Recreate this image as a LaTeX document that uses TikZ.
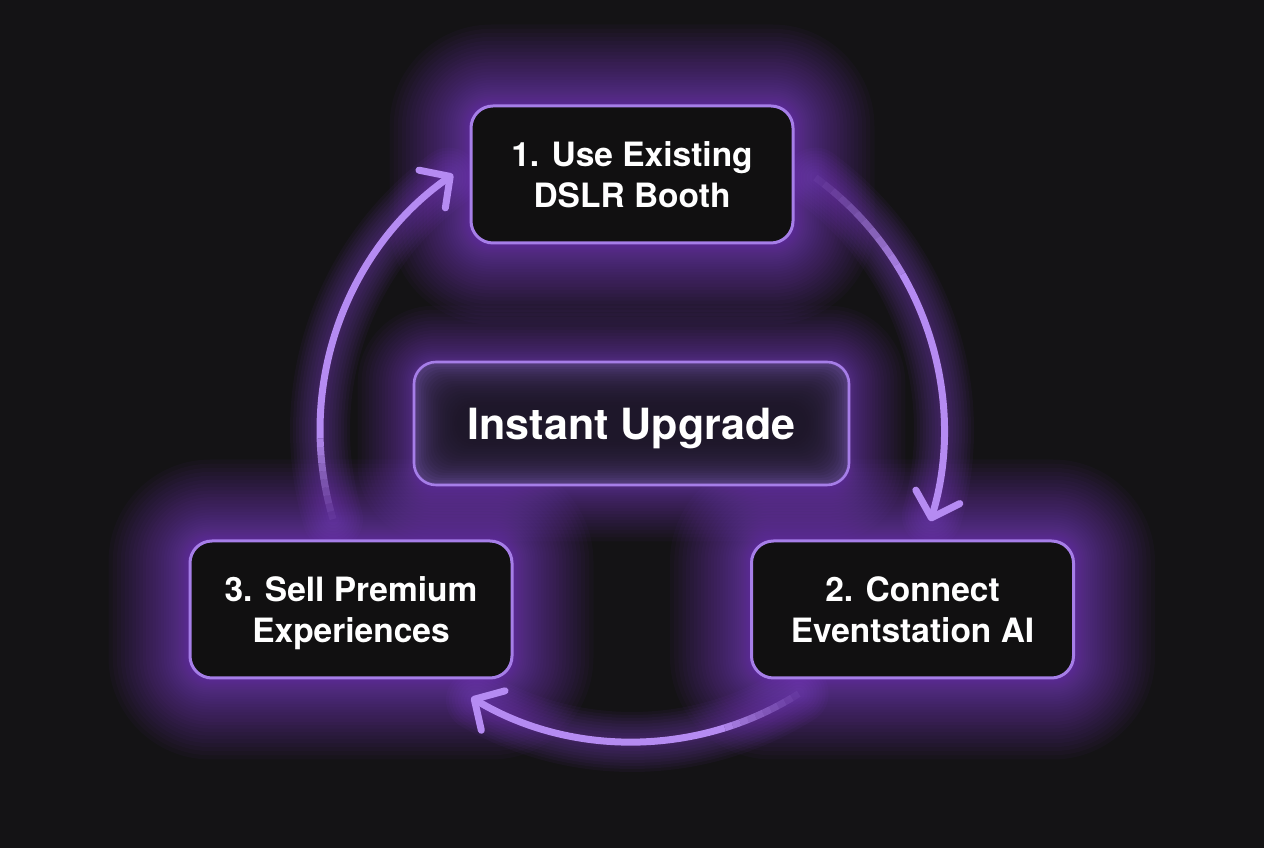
\documentclass[tikz,border=0pt]{standalone}
\usepackage{fontspec}
\setmainfont{TeX Gyre Heros}
\usetikzlibrary{arrows.meta}
\definecolor{bg}{HTML}{141315}
\definecolor{boxfill}{HTML}{111011}
\definecolor{edge}{HTML}{A67EE8}
\definecolor{glowc}{HTML}{8A45DD}
\definecolor{arrowc}{HTML}{B58BF2}
\definecolor{cfill}{HTML}{563E80}
\definecolor{cdark}{HTML}{1C1724}
\pgfdeclarelayer{bottom}
\pgfdeclarelayer{glow}
\pgfsetlayers{bottom,glow,main}
\newcommand\myglow[3]{% node name, steps, reach
  \foreach \i in {1,...,#2}{%
    \pgfmathsetmacro\dd{#3*(\i/#2)^1.7}%
    \pgfmathsetmacro\rr{22+\dd}%
    \fill[glowc, opacity=0.036, rounded corners=\rr pt]
      ([shift={(-\dd pt,-\dd pt)}]#1.south west) rectangle ([shift={(\dd pt,\dd pt)}]#1.north east);
  }}
% fading start of an arc: centre, radius, start angle, step (signed), count
\newcommand\fadearc[5]{%
  \foreach \j in {1,...,#5}{%
    \pgfmathsetmacro\aa{#3+(\j-1)*#4}%
    \pgfmathsetmacro\ab{#3+\j*#4}%
    \pgfmathsetmacro\op{\j/(#5+1)}%
    \draw[flow, opacity=\op] (#1) ++(\aa:#2) arc[start angle=\aa, end angle=\ab, radius=#2];
  }}
\begin{document}
\begin{tikzpicture}[x=1pt,y=1pt,
  stepbox/.style={draw=edge, line width=3pt, fill=boxfill, rounded corners=22pt,
    minimum width=322pt, minimum height=137pt, text=white, text depth=0pt,
    font=\fontsize{33.5}{41}\selectfont\bfseries, align=center, inner sep=0pt},
  hubbox/.style={draw=edge, line width=2.6pt, fill=cfill, rounded corners=22pt,
    minimum width=435pt, minimum height=123pt, text=white, text depth=0pt,
    font=\fontsize{43}{50}\selectfont\bfseries, inner sep=0pt,
    path picture={\foreach \k in {1,...,18}{%
      \pgfmathsetmacro\ee{\k*2.4}%
      \fill[cdark, opacity=0.12, rounded corners=20pt]
        ([shift={(\ee pt,\ee pt)}]path picture bounding box.south west) rectangle
        ([shift={(-\ee pt,-\ee pt)}]path picture bounding box.north east);}}},
  flow/.style={draw=arrowc, line width=7pt, line cap=butt},
  flowtip/.style={flow, -{Straight Barb[length=22pt, width=46pt, round]}},
  flowglow/.style={draw=glowc, line cap=round, opacity=0.05}
]
\useasboundingbox (0,0) rectangle (1264,848);
\begin{pgfonlayer}{bottom}
  \fill[bg] (0,0) rectangle (1264,848);
\end{pgfonlayer}

\coordinate (O) at (632,418);
\node[stepbox] (s1) at (632,673.5) {1. Use Existing\\DSLR Booth};
\node[stepbox] (s2) at (912.5,238.5) {2. Connect\\Eventstation AI};
\node[stepbox] (s3) at (351,238.5) {3. Sell Premium\\Experiences};
\node[hubbox] (hub) at (631.5,424.5) {Instant Upgrade};

\path (O) ++(196.6:312) coordinate (a3s);
\path (O) ++(54:312) coordinate (a1s);
\path (O) ++(-57.7:312) coordinate (a2s);

\begin{pgfonlayer}{glow}
  \myglow{s1}{32}{80}
  \myglow{s2}{32}{80}
  \myglow{s3}{32}{80}
  \myglow{hub}{24}{55}
  \foreach \w in {12,18,...,60}{%
    \draw[flowglow, line width=\w pt] (a3s) arc[start angle=196.6, end angle=126, radius=312];
    \draw[flowglow, line width=\w pt] (a1s) arc[start angle=54, end angle=-16, radius=312];
    \draw[flowglow, line width=\w pt] (a2s) arc[start angle=-57.7, end angle=-120, radius=312];
  }
\end{pgfonlayer}

% left arrow (3 -> 1)
\fadearc{O}{312}{196.6}{-1.5}{10}
\draw[flowtip] (O) ++(181.6:312) arc[start angle=181.6, end angle=125, radius=312];

% right arrow (1 -> 2)
\fadearc{O}{312}{54}{-2}{12}
\draw[flowtip] (O) ++(30:312) arc[start angle=30, end angle=-17, radius=312];

% bottom arrow (2 -> 3)
\fadearc{O}{312}{-57.7}{-1.5}{10}
\draw[flowtip] (O) ++(-72.7:312) arc[start angle=-72.7, end angle=-121, radius=312];
\end{tikzpicture}
\end{document}
